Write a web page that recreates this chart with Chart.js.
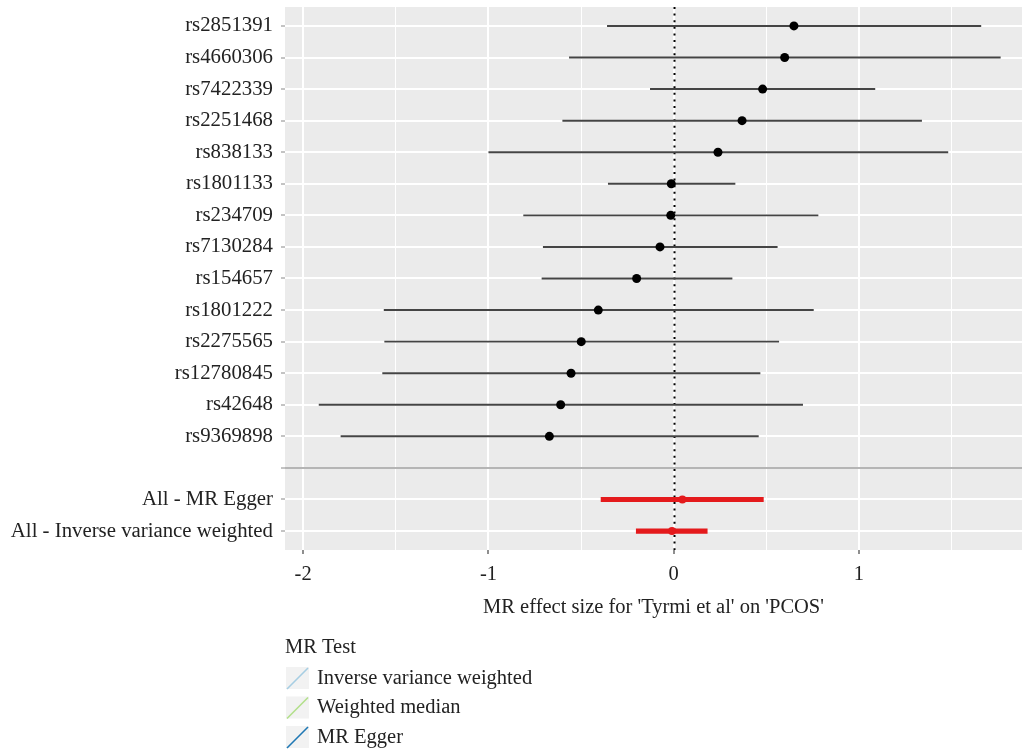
<!DOCTYPE html>
<html>
<head>
<meta charset="utf-8">
<script src="https://cdn.jsdelivr.net/npm/chart.js@4/dist/chart.umd.min.js"></script>
<style>
  html, body { margin: 0; padding: 0; background: #ffffff; }
  #wrap { width: 1023px; height: 750px; }
</style>
</head>
<body>
<div id="wrap"><canvas id="c" width="1023" height="750"></canvas></div>
<script>
// ---- data ----
const snpLabels = ['rs2851391','rs4660306','rs7422339','rs2251468','rs838133','rs1801133','rs234709','rs7130284','rs154657','rs1801222','rs2275565','rs12780845','rs42648','rs9369898'];
const snpEffect = [0.649, 0.599, 0.480, 0.369, 0.239, -0.013, -0.016, -0.074, -0.200, -0.407, -0.499, -0.554, -0.610, -0.671];
const snpLower  = [-0.358, -0.563, -0.126, -0.599, -0.998, -0.353, -0.810, -0.704, -0.711, -1.563, -1.560, -1.571, -1.914, -1.796];
const snpUpper  = [1.658, 1.763, 1.086, 1.338, 1.480, 0.331, 0.779, 0.559, 0.315, 0.754, 0.567, 0.466, 0.696, 0.457];
const summaryLabels = ['All - MR Egger', 'All - Inverse variance weighted'];
const summaryEffect = [0.047, -0.009];
const summaryLower  = [-0.392, -0.202];
const summaryUpper  = [0.484, 0.181];
const xTickValues = [-2, -1.5, -1, -0.5, 0, 0.5, 1, 1.5];
const xTitle = "MR effect size for 'Tyrmi et al' on 'PCOS'";
const legendTitle = 'MR Test';
const legendLabels = ['Inverse variance weighted', 'Weighted median', 'MR Egger'];
const legendColors = ['#a6cee3', '#b2df8a', '#1f78b4'];

// row layout (category positions): SNPs, a blank separator row, then summary rows
const categories = [...snpLabels, '', ...summaryLabels];
const snpRow = snpLabels.map((_, i) => i + 1);
const sepRow = snpLabels.length + 1;
const summaryRow = summaryLabels.map((_, i) => sepRow + 1 + i);

const FONT = "'Liberation Serif', 'Times New Roman', serif";
const TEXT = '#222222';

const bgPlugin = {
  id: 'ggbg',
  beforeDraw(chart) {
    const {ctx, chartArea: a} = chart;
    ctx.save();
    ctx.fillStyle = '#ebebeb';
    ctx.fillRect(a.left, a.top, a.right - a.left, a.bottom - a.top);
    ctx.restore();
  },
  beforeDatasetsDraw(chart) {
    const {ctx, chartArea: a, scales: {x, y}} = chart;
    ctx.save();
    // separator line between SNPs and summary
    const ys = y.getPixelForValue(sepRow);
    ctx.strokeStyle = '#b5b5b5';
    ctx.lineWidth = 2;
    ctx.beginPath(); ctx.moveTo(a.left, ys); ctx.lineTo(a.right, ys); ctx.stroke();
    // dotted zero line
    const x0 = Math.round(x.getPixelForValue(0)) + 0.5;
    ctx.strokeStyle = '#000000';
    ctx.lineWidth = 2;
    ctx.setLineDash([2, 4.6]);
    ctx.beginPath(); ctx.moveTo(x0, a.top); ctx.lineTo(x0, a.bottom); ctx.stroke();
    ctx.restore();
  },
  afterDraw(chart) {
    const {ctx, chartArea: a} = chart;
    ctx.save();
    ctx.fillStyle = TEXT;
    ctx.font = '20.5px ' + FONT;
    ctx.textBaseline = 'alphabetic';
    ctx.textAlign = 'left';
    ctx.fillText(legendTitle, a.left, 653);
    legendLabels.forEach((lab, i) => {
      const top = 667 + i * 29.5;
      const left = a.left + 1;
      ctx.fillStyle = '#f2f2f2';
      ctx.fillRect(left, top, 23, 22);
      ctx.strokeStyle = legendColors[i];
      ctx.lineWidth = 1.6;
      ctx.beginPath(); ctx.moveTo(left + 1, top + 22); ctx.lineTo(left + 22, top + 1); ctx.stroke();
      ctx.fillStyle = TEXT;
      ctx.fillText(lab, a.left + 32, top + 16.5);
    });
    ctx.restore();
  }
};

new Chart(document.getElementById('c'), {
  type: 'bar',
  data: {
    datasets: [
      {
        type: 'scatter',
        data: snpEffect.map((v, i) => ({x: v, y: snpRow[i]})),
        backgroundColor: '#000000', borderColor: '#000000',
        pointRadius: 4.5, borderWidth: 0, order: 0
      },
      {
        type: 'scatter',
        data: summaryEffect.map((v, i) => ({x: v, y: summaryRow[i]})),
        backgroundColor: '#e41a1c', borderColor: '#e41a1c',
        pointRadius: 4, borderWidth: 0, order: 0
      },
      {
        type: 'bar', indexAxis: 'y', grouped: false,
        data: snpLower.map((lo, i) => ({x: [lo, snpUpper[i]], y: snpRow[i]})),
        backgroundColor: '#444444', borderWidth: 0, barThickness: 1.3, order: 1
      },
      {
        type: 'bar', indexAxis: 'y', grouped: false,
        data: summaryLower.map((lo, i) => ({x: [lo, summaryUpper[i]], y: summaryRow[i]})),
        backgroundColor: '#e41a1c', borderWidth: 0, barThickness: 4.5, order: 1
      }
    ]
  },
  options: {
    responsive: false,
    animation: false,
    devicePixelRatio: 1,
    layout: { autoPadding: false, padding: { top: 7, right: 1, left: 0, bottom: 120 } },
    plugins: { legend: { display: false }, tooltip: { enabled: false } },
    scales: {
      x: {
        type: 'linear', position: 'bottom',
        min: -2.098, max: 1.880, offset: false,
        afterBuildTicks: (s) => { s.ticks = xTickValues.map(v => ({value: v})); },
        afterFit: (s) => { s.height = 80; s.paddingLeft = 0; s.paddingRight = 0; },
        ticks: {
          autoSkip: false, maxRotation: 0, padding: 8,
          color: TEXT, font: { family: FONT, size: 20.5 },
          callback: (v) => Number.isInteger(v) ? String(v) : ''
        },
        grid: {
          color: '#ffffff',
          lineWidth: (c) => (c.tick && Number.isInteger(c.tick.value)) ? 2 : 1,
          tickColor: (c) => (c.tick && Number.isInteger(c.tick.value)) ? '#444444' : 'rgba(0,0,0,0)',
          tickLength: 4, tickWidth: 1.2, drawTicks: true, offset: false
        },
        border: { display: false },
        title: {
          display: true, text: xTitle, color: TEXT,
          font: { family: FONT, size: 20.5 }, padding: { top: 0, bottom: 10 }
        }
      },
      y: {
        type: 'linear', position: 'left', reverse: true,
        min: 0.4, max: categories.length + 0.6, offset: false,
        afterBuildTicks: (s) => { s.ticks = categories.map((_, i) => ({value: i + 1})); },
        afterFit: (s) => { s.width = 285; s.paddingTop = 0; s.paddingBottom = 0; },
        ticks: {
          autoSkip: false, padding: 8,
          color: TEXT, font: { family: FONT, size: 20.8 },
          callback: (v) => categories[v - 1]
        },
        grid: {
          color: '#ffffff', lineWidth: 2,
          tickColor: '#888888', tickLength: 4, tickWidth: 1, offset: false
        },
        border: { display: false }
      }
    }
  },
  plugins: [bgPlugin]
});
</script>
</body>
</html>
